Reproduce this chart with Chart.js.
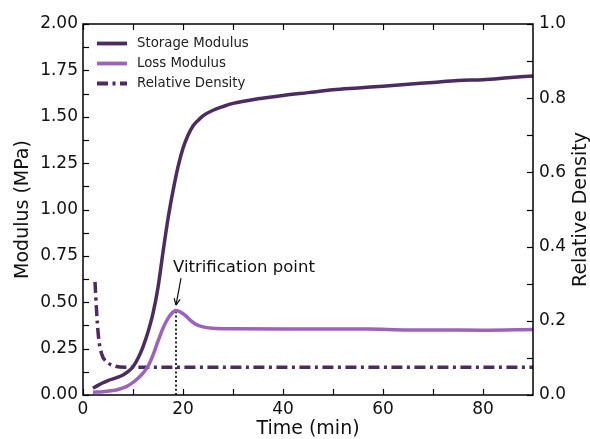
<!DOCTYPE html>
<html>
<head>
<meta charset="utf-8">
<script src="https://cdn.jsdelivr.net/npm/chart.js@4"></script>
<style>
  html, body { margin: 0; padding: 0; background: #fff; }
  #wrap { width: 590px; height: 439px; }
</style>
</head>
<body>
<div id="wrap"><canvas id="myChart" width="590" height="439"></canvas></div>
<script>
// data
const storageTime = [2, 3, 4, 5, 6, 7, 8, 9, 10, 11, 12, 13, 14, 15, 16, 17, 18, 19, 20, 21, 22, 23, 24, 26, 28, 30, 35, 40, 45, 50, 55, 60, 65, 70, 75, 80, 85, 90]
const storageModulus = [0.036, 0.052, 0.066, 0.078, 0.087, 0.096, 0.108, 0.126, 0.152, 0.198, 0.26, 0.34, 0.44, 0.58, 0.77, 0.95, 1.1, 1.23, 1.33, 1.4, 1.45, 1.48, 1.505, 1.535, 1.555, 1.572, 1.597, 1.615, 1.63, 1.645, 1.655, 1.665, 1.675, 1.685, 1.695, 1.7, 1.71, 1.72]
const lossTime = [2, 4, 6, 7, 8, 9, 10, 11, 12, 13, 14, 15, 16, 17, 18, 18.6, 19.5, 20.5, 21.5, 22.5, 24, 26, 30, 40, 50, 57, 65, 70, 80, 90]
const lossModulus = [0.015, 0.018, 0.024, 0.03, 0.038, 0.05, 0.068, 0.09, 0.118, 0.155, 0.215, 0.29, 0.36, 0.413, 0.447, 0.455, 0.447, 0.428, 0.402, 0.382, 0.367, 0.36, 0.357, 0.356, 0.356, 0.356, 0.351, 0.351, 0.349, 0.353]
const densityTime = [2.4, 2.7, 3.1, 3.7, 4.7, 6.4, 8.4, 90]
const relativeDensity = [0.305, 0.23, 0.157, 0.112, 0.09, 0.078, 0.075, 0.075]
const vitrificationTime = 18.6
const vitrificationModulus = 0.455

const timeTicks = [0, 20, 40, 60, 80]
const timeMinor = [10, 30, 50, 70]
const modulusTicks = [0, 0.25, 0.5, 0.75, 1.0, 1.25, 1.5, 1.75, 2.0]
const modulusMinor = [0.125, 0.375, 0.625, 0.875, 1.125, 1.375, 1.625, 1.875]
const densityTicks = [0, 0.2, 0.4, 0.6, 0.8, 1.0]
const densityMinor = [0.1, 0.3, 0.5, 0.7, 0.9]

const darkPurple = '#4c2b60'
const lightPurple = '#9c62bc'
const dashDot = [11, 4.5, 3, 4.5]
const FONT = "'DejaVu Sans', sans-serif"

const toXY = (xs, ys) => xs.map((x, i) => ({ x: x, y: ys[i] }))

const legendItems = [
    { label: 'Storage Modulus', color: darkPurple, dash: [] },
    { label: 'Loss Modulus', color: lightPurple, dash: [] },
    { label: 'Relative Density', color: darkPurple, dash: dashDot }
]

// frame, inward ticks, legend, right title and the vitrification note
const decorations = {
    id: 'decorations',
    afterDatasetsDraw(chart) {
        const c = chart.ctx
        const a = chart.chartArea
        const sx = chart.scales.x, sy = chart.scales.y, sy1 = chart.scales.y1
        c.save()
        c.strokeStyle = '#000'
        c.lineWidth = 1.2
        const tick = (x1, y1, x2, y2) => { c.beginPath(); c.moveTo(x1, y1); c.lineTo(x2, y2); c.stroke() }
        timeTicks.concat(timeMinor).forEach(v => {
            const p = Math.round(sx.getPixelForValue(v)) + 0.5
            tick(p, a.bottom, p, a.bottom - 6)
            tick(p, a.top, p, a.top + 6)
        })
        modulusTicks.concat(modulusMinor).forEach(v => {
            const p = Math.round(sy.getPixelForValue(v)) + 0.5
            tick(a.left, p, a.left + 6, p)
        })
        densityTicks.concat(densityMinor).forEach(v => {
            const p = Math.round(sy1.getPixelForValue(v)) + 0.5
            tick(a.right, p, a.right - 6, p)
        })
        c.lineWidth = 1.5
        c.strokeRect(a.left, a.top, a.right - a.left, a.bottom - a.top)

        // legend
        c.font = '13.3px ' + FONT
        c.textBaseline = 'middle'
        c.fillStyle = '#222'
        legendItems.forEach((it, i) => {
            const y = a.top + 19.5 + i * 20
            c.strokeStyle = it.color
            c.lineWidth = 3.8
            c.setLineDash(it.dash)
            tick(a.left + 14, y, a.left + 44, y)
            c.setLineDash([])
            c.fillText(it.label, a.left + 54, y)
        })

        // right axis title, reading bottom to top
        c.save()
        c.translate(581, (a.top + a.bottom) / 2)
        c.rotate(-Math.PI / 2)
        c.font = '19px ' + FONT
        c.fillStyle = '#111'
        c.textAlign = 'center'
        c.fillText('Relative Density', 0, 0)
        c.restore()

        // annotation
        const tx = sx.getPixelForValue(18.0), ty = sy.getPixelForValue(0.685)
        c.font = '16.5px ' + FONT
        c.fillStyle = '#111'
        c.textAlign = 'left'
        c.fillText('Vitrification point', tx, ty)
        const x0 = sx.getPixelForValue(19.6), y0 = sy.getPixelForValue(0.63)
        const x1 = sx.getPixelForValue(vitrificationTime), y1 = sy.getPixelForValue(0.485)
        c.strokeStyle = '#111'
        c.lineWidth = 1.2
        tick(x0, y0, x1, y1)
        const ang = Math.atan2(y1 - y0, x1 - x0)
        ;[0.45, -0.45].forEach(d => {
            tick(x1, y1, x1 - 7 * Math.cos(ang + d), y1 - 7 * Math.sin(ang + d))
        })
        c.restore()
    }
}

const tickFont = { family: FONT, size: 17 }
const titleFont = { family: FONT, size: 19, lineHeight: 1 }

const ctx = document.getElementById('myChart').getContext('2d')
const config = {
    type: 'line',
    data: {
        datasets: [{
            label: 'Storage Modulus',
            data: toXY(storageTime, storageModulus),
            borderColor: darkPurple,
            borderWidth: 3.5,
            yAxisID: 'y'
        }, {
            label: 'Loss Modulus',
            data: toXY(lossTime, lossModulus),
            borderColor: lightPurple,
            borderWidth: 3.5,
            yAxisID: 'y'
        }, {
            label: 'Relative Density',
            data: toXY(densityTime, relativeDensity),
            borderColor: darkPurple,
            borderWidth: 3.5,
            borderDash: dashDot,
            yAxisID: 'y1'
        }, {
            label: 'Vitrification',
            data: toXY([vitrificationTime, vitrificationTime], [0, vitrificationModulus]),
            borderColor: '#111',
            borderWidth: 1.8,
            borderDash: [2, 2.3],
            cubicInterpolationMode: 'default',
            tension: 0,
            yAxisID: 'y'
        }]
    },
    options: {
        responsive: false,
        animation: false,
        devicePixelRatio: 1,
        layout: { padding: { top: 24, left: 0, right: 0, bottom: 0 } },
        elements: {
            point: { radius: 0 },
            line: { cubicInterpolationMode: 'monotone', borderCapStyle: 'butt' }
        },
        plugins: { legend: { display: false }, tooltip: { enabled: false } },
        scales: {
            x: {
                type: 'linear', min: 0, max: 90,
                grid: { display: false, drawTicks: false },
                border: { display: false },
                afterBuildTicks: s => { s.ticks = timeTicks.map(v => ({ value: v })) },
                afterFit: s => { s.height = 44 },
                ticks: { color: '#111', font: tickFont, padding: 4, maxRotation: 0 },
                title: { display: true, text: 'Time (min)', color: '#111', font: titleFont, padding: { top: 0, bottom: 0 } }
            },
            y: {
                type: 'linear', position: 'left', min: 0, max: 2,
                grid: { display: false, drawTicks: false },
                border: { display: false },
                afterBuildTicks: s => { s.ticks = modulusTicks.map(v => ({ value: v })) },
                afterFit: s => { s.width = 83 },
                ticks: { color: '#111', font: tickFont, padding: 5, callback: v => v.toFixed(2) },
                title: { display: true, text: 'Modulus (MPa)', color: '#111', font: titleFont, padding: { top: 14, bottom: 0 } }
            },
            y1: {
                type: 'linear', position: 'right', min: 0, max: 1,
                grid: { display: false, drawTicks: false },
                border: { display: false },
                afterBuildTicks: s => { s.ticks = densityTicks.map(v => ({ value: v })) },
                afterFit: s => { s.width = 57 },
                ticks: { color: '#111', font: tickFont, padding: 6, callback: v => v.toFixed(1) },
                title: { display: false }
            }
        }
    },
    plugins: [decorations]
}
const myChart = new Chart(ctx, config)
</script>
</body>
</html>
